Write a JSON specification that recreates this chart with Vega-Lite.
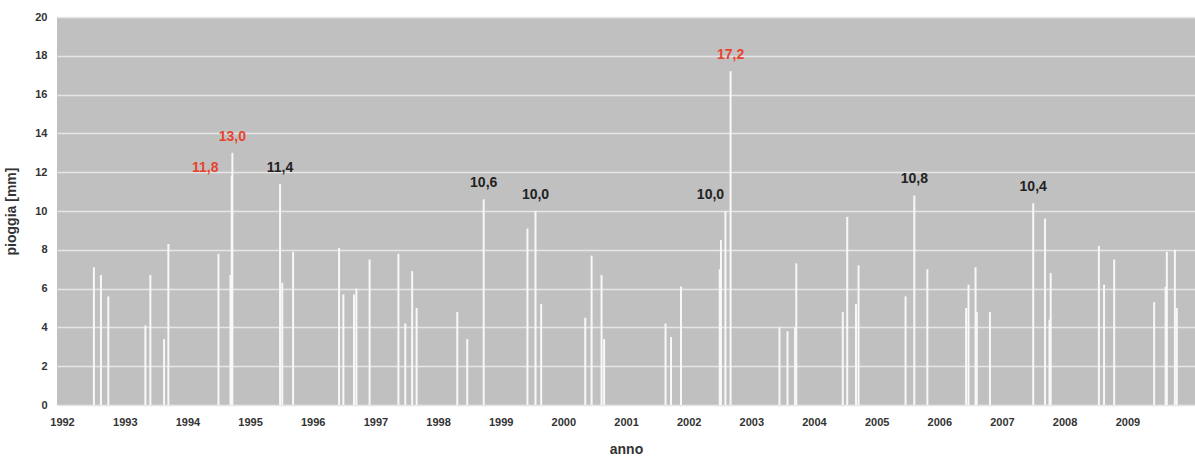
{
  "$schema": "https://vega.github.io/schema/vega-lite/v6.json",
  "width": 1138,
  "height": 388,
  "autosize": "none",
  "padding": {"left": 57, "top": 17, "right": 0, "bottom": 53},
  "background": "#ffffff",
  "view": {"fill": "#c0c0c0", "stroke": null},
  "config": {"font": "Liberation Sans"},
  "datasets": {
    "pioggia": [
      {"data": "1992-07-05", "mm": 7.1},
      {"data": "1992-08-15", "mm": 6.7},
      {"data": "1992-09-27", "mm": 5.6},
      {"data": "1993-05-01", "mm": 4.1},
      {"data": "1993-05-30", "mm": 6.7},
      {"data": "1993-08-18", "mm": 3.4},
      {"data": "1993-09-12", "mm": 8.3},
      {"data": "1994-07-01", "mm": 7.8},
      {"data": "1994-09-09", "mm": 6.7},
      {"data": "1994-09-16", "mm": 11.8},
      {"data": "1994-09-20", "mm": 13.0},
      {"data": "1995-06-25", "mm": 11.4},
      {"data": "1995-07-08", "mm": 6.3},
      {"data": "1995-09-09", "mm": 7.9},
      {"data": "1996-06-03", "mm": 8.1},
      {"data": "1996-06-28", "mm": 5.7},
      {"data": "1996-08-29", "mm": 5.7},
      {"data": "1996-09-12", "mm": 6.0},
      {"data": "1996-11-28", "mm": 7.5},
      {"data": "1997-05-15", "mm": 7.8},
      {"data": "1997-06-24", "mm": 4.2},
      {"data": "1997-08-03", "mm": 6.9},
      {"data": "1997-08-29", "mm": 5.0},
      {"data": "1998-04-23", "mm": 4.8},
      {"data": "1998-06-20", "mm": 3.4},
      {"data": "1998-09-24", "mm": 10.6},
      {"data": "1999-06-06", "mm": 9.1},
      {"data": "1999-07-23", "mm": 10.0},
      {"data": "1999-08-25", "mm": 5.2},
      {"data": "2000-05-08", "mm": 4.5},
      {"data": "2000-06-14", "mm": 7.7},
      {"data": "2000-08-11", "mm": 6.7},
      {"data": "2000-08-26", "mm": 3.4},
      {"data": "2001-08-19", "mm": 4.2},
      {"data": "2001-09-20", "mm": 3.5},
      {"data": "2001-11-17", "mm": 6.1},
      {"data": "2002-07-01", "mm": 7.0},
      {"data": "2002-07-08", "mm": 8.5},
      {"data": "2002-08-03", "mm": 10.0},
      {"data": "2002-09-02", "mm": 17.2},
      {"data": "2003-06-14", "mm": 4.0},
      {"data": "2003-07-31", "mm": 3.8},
      {"data": "2003-09-13", "mm": 4.0},
      {"data": "2003-09-20", "mm": 7.3},
      {"data": "2004-06-17", "mm": 4.8},
      {"data": "2004-07-13", "mm": 9.7},
      {"data": "2004-09-02", "mm": 5.2},
      {"data": "2004-09-17", "mm": 7.2},
      {"data": "2005-06-18", "mm": 5.6},
      {"data": "2005-08-08", "mm": 10.8},
      {"data": "2005-10-23", "mm": 7.0},
      {"data": "2006-06-06", "mm": 5.0},
      {"data": "2006-06-20", "mm": 6.2},
      {"data": "2006-07-31", "mm": 7.1},
      {"data": "2006-08-07", "mm": 4.8},
      {"data": "2006-10-23", "mm": 4.8},
      {"data": "2007-07-02", "mm": 10.4},
      {"data": "2007-09-09", "mm": 9.6},
      {"data": "2007-10-05", "mm": 4.4},
      {"data": "2007-10-12", "mm": 6.8},
      {"data": "2008-07-19", "mm": 8.2},
      {"data": "2008-08-18", "mm": 6.2},
      {"data": "2008-10-16", "mm": 7.5},
      {"data": "2009-06-06", "mm": 5.3},
      {"data": "2009-08-12", "mm": 6.1},
      {"data": "2009-08-19", "mm": 7.9},
      {"data": "2009-10-05", "mm": 8.0},
      {"data": "2009-10-16", "mm": 5.0}
    ],
    "etichette": [
      {"data": "1994-04-15", "mm": 11.8, "testo": "11,8", "tipo": "massimo"},
      {"data": "1994-09-20", "mm": 13.0, "testo": "13,0", "tipo": "massimo"},
      {"data": "1995-06-25", "mm": 11.4, "testo": "11,4", "tipo": "altro"},
      {"data": "1998-09-24", "mm": 10.6, "testo": "10,6", "tipo": "altro"},
      {"data": "1999-07-23", "mm": 10.0, "testo": "10,0", "tipo": "altro"},
      {"data": "2002-05-08", "mm": 10.0, "testo": "10,0", "tipo": "altro"},
      {"data": "2002-09-02", "mm": 17.2, "testo": "17,2", "tipo": "massimo"},
      {"data": "2005-08-08", "mm": 10.8, "testo": "10,8", "tipo": "altro"},
      {"data": "2007-07-02", "mm": 10.4, "testo": "10,4", "tipo": "altro"}
    ]
  },
  "encoding": {
    "x": {
      "field": "data",
      "type": "temporal",
      "scale": {"domain": ["1992-01-01", "2010-01-01"]},
      "axis": {
        "title": "anno",
        "format": "%Y",
        "values": [
          {"year": 1992}, {"year": 1993}, {"year": 1994}, {"year": 1995},
          {"year": 1996}, {"year": 1997}, {"year": 1998}, {"year": 1999},
          {"year": 2000}, {"year": 2001}, {"year": 2002}, {"year": 2003},
          {"year": 2004}, {"year": 2005}, {"year": 2006}, {"year": 2007},
          {"year": 2008}, {"year": 2009}
        ],
        "grid": false,
        "domain": false,
        "ticks": false,
        "labelFontSize": 11,
        "labelFontWeight": "bold",
        "labelColor": "#333333",
        "labelPadding": 11,
        "labelFlush": false,
        "labelOverlap": false,
        "titleFontSize": 14,
        "titleFontWeight": "bold",
        "titleColor": "#333333",
        "titlePadding": 15
      }
    },
    "y": {
      "field": "mm",
      "type": "quantitative",
      "scale": {"domain": [0, 20], "nice": false},
      "axis": {
        "title": "pioggia [mm]",
        "values": [0, 2, 4, 6, 8, 10, 12, 14, 16, 18, 20],
        "grid": true,
        "gridColor": "#e6e6e6",
        "gridWidth": 1.5,
        "domain": false,
        "ticks": false,
        "labelOverlap": false,
        "labelFontSize": 11,
        "labelFontWeight": "bold",
        "labelColor": "#333333",
        "labelPadding": 10,
        "titleFontSize": 14,
        "titleFontWeight": "bold",
        "titleColor": "#333333",
        "titlePadding": 16
      }
    }
  },
  "layer": [
    {
      "data": {"name": "pioggia"},
      "mark": {"type": "bar", "size": 2, "color": "#f8f8f8"}
    },
    {
      "data": {"name": "etichette"},
      "transform": [{"filter": "datum.testo !== '11,8'"}],
      "mark": {"type": "text", "fontSize": 14, "fontWeight": "bold", "baseline": "middle", "align": "center", "dy": -16},
      "encoding": {
        "text": {"field": "testo"},
        "color": {
          "field": "tipo",
          "type": "nominal",
          "scale": {"domain": ["massimo", "altro"], "range": ["#e8432e", "#222222"]},
          "legend": null
        }
      }
    },
    {
      "data": {"name": "etichette"},
      "transform": [{"filter": "datum.testo === '11,8'"}],
      "mark": {"type": "text", "fontSize": 14, "fontWeight": "bold", "baseline": "middle", "align": "center", "dy": -8},
      "encoding": {
        "text": {"field": "testo"},
        "color": {
          "field": "tipo",
          "type": "nominal",
          "scale": {"domain": ["massimo", "altro"], "range": ["#e8432e", "#222222"]},
          "legend": null
        }
      }
    }
  ]
}
